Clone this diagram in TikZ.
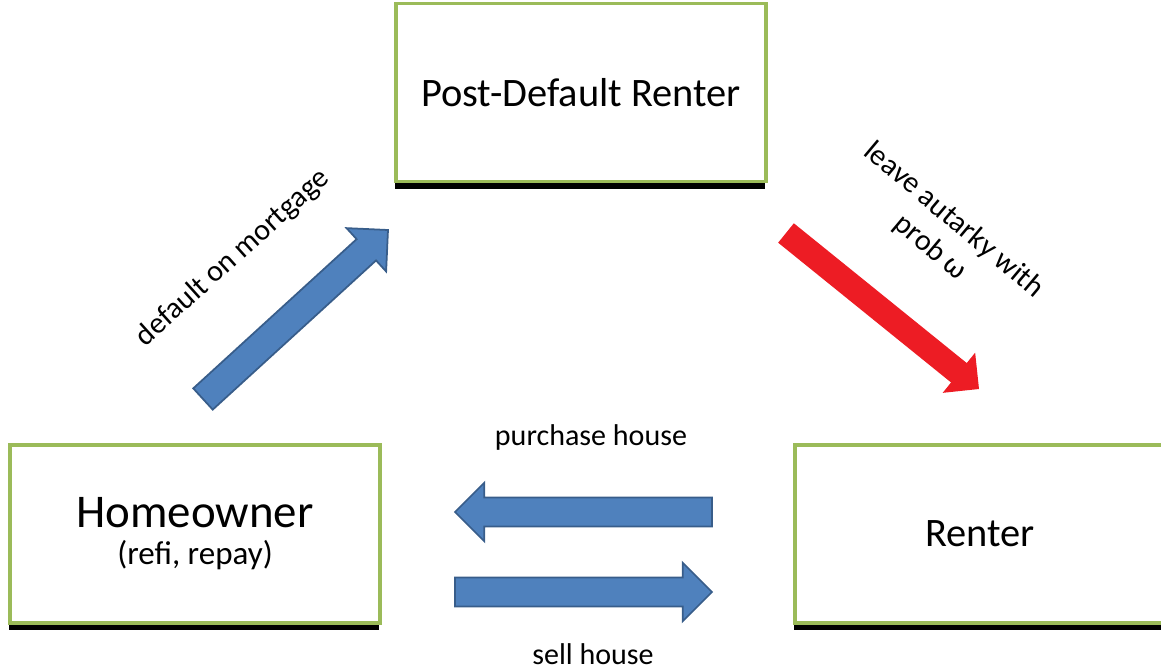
\documentclass[tikz,border=0pt]{standalone}
\usepackage{fontspec}
\setmainfont{Carlito}
\usetikzlibrary{calc,shadows}

\definecolor{boxgreen}{HTML}{9BBB59}
\definecolor{arrowblue}{HTML}{4F81BD}
\definecolor{arrowedge}{HTML}{385D8A}
\definecolor{arrowred}{HTML}{ED1C24}

\tikzset{
  statebox/.style={draw=boxgreen, line width=2.2pt, fill=white, align=center,
    minimum width=7.4cm, minimum height=3.56cm,
    drop shadow={shadow xshift=-0.6pt, shadow yshift=-4pt, fill=black, opacity=1}},
  bluearrow/.style={fill=arrowblue, draw=arrowedge, line width=1pt},
  redarrow/.style={fill=arrowred},
  edgelabel/.style={font=\fontsize{17.1}{20.5}\selectfont, align=center, inner sep=0pt}
}

% block arrow: style, tail, tip, shaft half width, head half width (= head length)
\newcommand{\blockarrow}[5]{%
  \coordinate (hb) at ($(#3)!#5!(#2)$);
  \path [#1] ($(#2)!#4!90:(#3)$) -- ($(hb)!#4!90:(#3)$) -- ($(hb)!#5!90:(#3)$) --
    (#3) -- ($(hb)!#5!-90:(#3)$) -- ($(hb)!#4!-90:(#3)$) -- ($(#2)!#4!-90:(#3)$) -- cycle;
}

\begin{document}
\begin{tikzpicture}[x=0.02cm, y=-0.02cm]

\def\width{1161}
\def\height{672}

\path [use as bounding box] (0,0) rectangle (\width,\height);

% STATES
\node [statebox, font=\fontsize{23}{27}\selectfont] (pdr) at (581,92.5) {Post-Default Renter};
\node [statebox, font=\fontsize{26.7}{21}\selectfont] (home) at (195,534) {Homeowner\\
  {\fontsize{18.8}{21}\selectfont (refi, repay)}};
\node [statebox, font=\fontsize{23}{27}\selectfont] (rent) at (980,534) {Renter};

% ARROW ENDS
\coordinate (defTail) at (203,399);
\coordinate (defTip) at (388,230);
\coordinate (leaveTail) at (786,233);
\coordinate (leaveTip) at (979,389);
\coordinate (buyTail) at (712,512);
\coordinate (buyTip) at (455,512);
\coordinate (sellTail) at (455,592);
\coordinate (sellTip) at (712,592);

% ARROWS
\blockarrow{bluearrow}{defTail}{defTip}{8.2pt}{16.7pt}
\blockarrow{redarrow}{leaveTail}{leaveTip}{7.1pt}{14.7pt}
\blockarrow{bluearrow}{buyTail}{buyTip}{8.2pt}{16.7pt}
\blockarrow{bluearrow}{sellTail}{sellTip}{8.2pt}{16.7pt}

% LABELS
\node [edgelabel, rotate=42] (defLabel) at (233,258) {default on mortgage};
\node [edgelabel, rotate=-40] (leaveLabel) at (942,234) {leave autarky with\\prob ω};
\node [edgelabel] (buyLabel) at (591,437) {purchase house};
\node [edgelabel] (sellLabel) at (593,654) {sell house};

\end{tikzpicture}
\end{document}
